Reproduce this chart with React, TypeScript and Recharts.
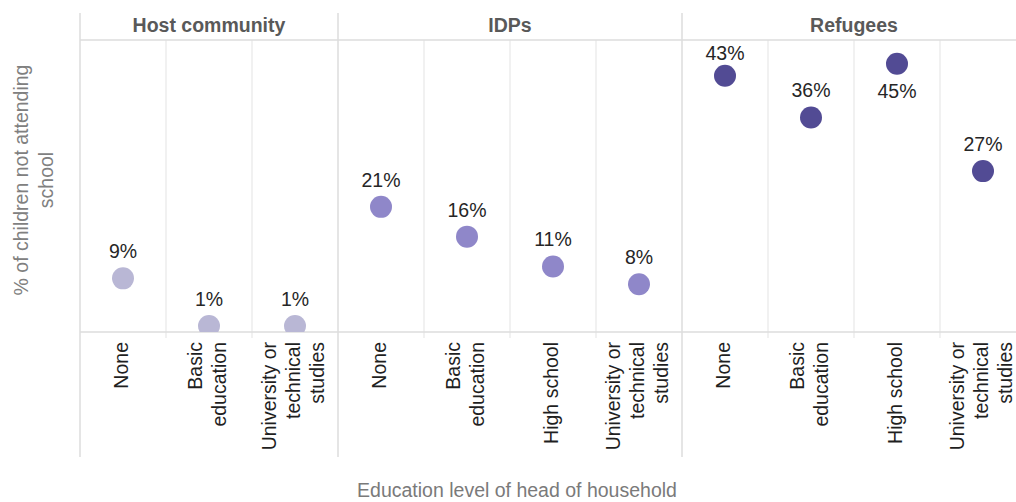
import { ScatterChart, Scatter, XAxis, YAxis, ReferenceLine } from "recharts";

const groups = ["Host community", "IDPs", "Refugees"];
const hostLevels = ["None", "Basic\neducation", "University or\ntechnical\nstudies"];
const idpLevels = ["None", "Basic\neducation", "High school", "University or\ntechnical\nstudies"];
const refugeeLevels = ["None", "Basic\neducation", "High school", "University or\ntechnical\nstudies"];
const hostValues = [9, 1, 1];
const idpValues = [21, 16, 11, 8];
const refugeeValues = [43, 36, 45, 27];
const groupColors = ["#b9b7d5", "#8f87c9", "#524b94"];

const FONT = "'Liberation Sans', Arial, sans-serif";
const FS = 19.5;

const levelsByGroup = [hostLevels, idpLevels, refugeeLevels];
const valuesByGroup = [hostValues, idpValues, refugeeValues];

// column layout: one column per level, facets side by side
const starts = levelsByGroup.map((_, g) =>
  levelsByGroup.slice(0, g).reduce((s, l) => s + l.length, 0)
);
const total = levelsByGroup.reduce((s, l) => s + l.length, 0);
const tickLabels = levelsByGroup.flat();
const columnCenters = tickLabels.map((_, i) => i + 0.5);
const facetCenters = levelsByGroup.map((l, g) => starts[g] + l.length / 2);
const facetEdges = [...starts, total];
const innerEdges = columnCenters
  .map((c) => c + 0.5)
  .filter((e) => !facetEdges.includes(e));

const series = valuesByGroup.map((vals, g) =>
  vals.map((v, i) => ({ pos: starts[g] + i + 0.5, value: v }))
);
// anchors so the top (facet) axis has something to scale
const facetAnchors = facetCenters.map((c) => ({ pos: c, value: 0 }));

// chart geometry
const yMax = 49;
const plotHeight = 292;
const pxPerUnit = plotHeight / yMax;
const headerTop = yMax + 27 / pxPerUnit;
const frameBottom = -125 / pxPerUnit;

const FacetTick = (props: any) => {
  const { x, y, payload } = props;
  const g = facetCenters.indexOf(payload.value);
  return (
    <text x={x} y={y} textAnchor="middle" fontFamily={FONT} fontSize={FS} fontWeight={700} fill="#595959">
      {groups[g]}
    </text>
  );
};

const LevelTick = (props: any) => {
  const { x, y, payload } = props;
  const lines = tickLabels[Math.floor(payload.value)].split("\n");
  const top = y + 2;
  return (
    <g>
      {lines.map((line, k) => {
        const cx = x + (k - (lines.length - 1) / 2) * 24 + 5;
        return (
          <text
            key={k}
            x={cx}
            y={top}
            transform={`rotate(-90, ${cx}, ${top})`}
            textAnchor="end"
            fontFamily={FONT}
            fontSize={FS}
            fill="#1f1f1f"
          >
            {line}
          </text>
        );
      })}
    </g>
  );
};

const YTitle = (props: any) => {
  const vb = props.viewBox || { x: 0, y: 40, width: 80, height: 292 };
  const cy = vb.y + vb.height / 2 - 6;
  const lines = ["% of children not attending", "school"];
  return (
    <g>
      {lines.map((line, k) => {
        const bx = vb.x + 28 + k * 25;
        return (
          <text
            key={k}
            x={bx}
            y={cy}
            transform={`rotate(-90, ${bx}, ${cy})`}
            textAnchor="middle"
            fontFamily={FONT}
            fontSize={FS}
            fill="#808080"
          >
            {line}
          </text>
        );
      })}
    </g>
  );
};

const XTitle = () => (
  <text x={517} y={497} textAnchor="middle" fontFamily={FONT} fontSize={FS} fill="#7a7a7a">
    Education level of head of household
  </text>
);

const makeDot = (color: string) => (props: any) => {
  const { cx, cy, payload } = props;
  const below = payload.value > yMax - 6;
  const ty = below ? cy + 34 : Math.max(cy - 20, 60);
  return (
    <g>
      <circle cx={cx} cy={cy} r={11} fill={color} />
      <text x={cx} y={ty} textAnchor="middle" fontFamily={FONT} fontSize={FS} fill="#262626">
        {payload.value}%
      </text>
    </g>
  );
};

export default function App() {
  return (
    <div style={{ position: "absolute", left: 0, top: 0 }}>
      <ScatterChart width={1016} height={502} margin={{ top: 13, right: -10, bottom: 0, left: 0 }}>
        <XAxis
          xAxisId="facet"
          orientation="top"
          type="number"
          dataKey="pos"
          domain={[0, total]}
          ticks={facetCenters}
          interval={0}
          height={27}
          axisLine={false}
          tickLine={false}
          allowDataOverflow
          tick={<FacetTick />}
        />
        <XAxis
          type="number"
          dataKey="pos"
          domain={[0, total]}
          ticks={columnCenters}
          interval={0}
          height={170}
          axisLine={false}
          tickLine={false}
          allowDataOverflow
          tick={<LevelTick />}
          label={<XTitle />}
        />
        <YAxis
          type="number"
          dataKey="value"
          domain={[0, yMax]}
          width={80}
          tick={false}
          axisLine={false}
          tickLine={false}
          allowDataOverflow
          label={<YTitle />}
        />
        {innerEdges.map((e) => (
          <ReferenceLine
            key={`in-${e}`}
            segment={[{ x: e, y: -1 }, { x: e, y: yMax }]}
            stroke="#ececec"
            strokeWidth={1.5}
            ifOverflow="visible"
          />
        ))}
        {facetEdges.map((e) => (
          <ReferenceLine
            key={`f-${e}`}
            segment={[{ x: e, y: frameBottom }, { x: e, y: headerTop }]}
            stroke="#dcdcdc"
            strokeWidth={1.5}
            ifOverflow="visible"
          />
        ))}
        <ReferenceLine y={0} stroke="#dcdcdc" strokeWidth={1.5} />
        <ReferenceLine y={yMax} stroke="#dcdcdc" strokeWidth={1.5} />
        <Scatter
          xAxisId="facet"
          data={facetAnchors}
          shape={() => <g />}
          legendType="none"
          isAnimationActive={false}
        />
        {series.map((d, g) => (
          <Scatter
            key={groups[g]}
            name={groups[g]}
            data={d}
            fill={groupColors[g]}
            shape={makeDot(groupColors[g])}
            isAnimationActive={false}
          />
        ))}
      </ScatterChart>
    </div>
  );
}
